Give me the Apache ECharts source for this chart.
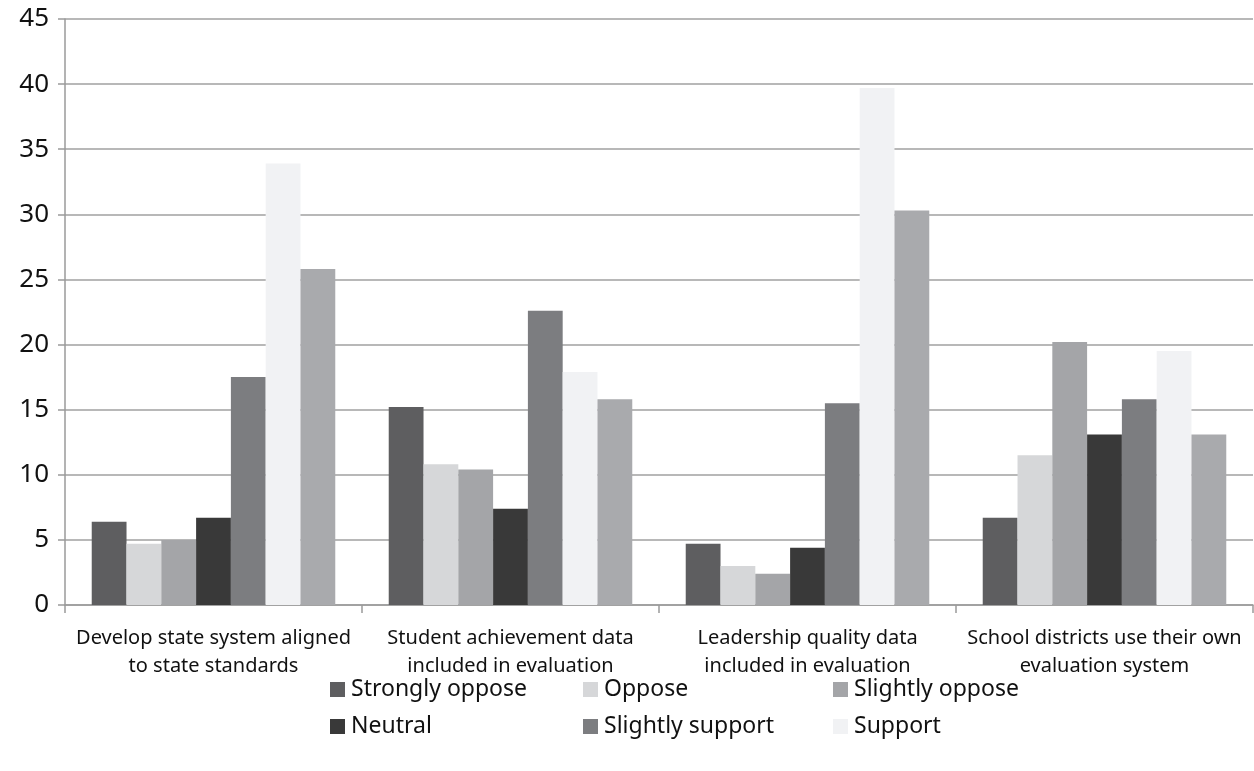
<!DOCTYPE html>
<html>
<head>
<meta charset="utf-8">
<script src="https://cdn.jsdelivr.net/npm/echarts@6/dist/echarts.min.js"></script>
<style>
  html, body { margin: 0; padding: 0; background: #fff; }
  #main { width: 1254px; height: 771px; }
</style>
</head>
<body>
<div id="main"></div>
<script>
var categories = [
  'Develop state system aligned\nto state standards',
  'Student achievement data\nincluded in evaluation',
  'Leadership quality data\nincluded in evaluation',
  'School districts use their own\nevaluation system'
];
var seriesNames = ['Strongly oppose', 'Oppose', 'Slightly oppose', 'Neutral', 'Slightly support', 'Support', 'Strongly support'];
var stronglyOppose = [6.4, 15.2, 4.7, 6.7];
var oppose = [4.7, 10.8, 3.0, 11.5];
var slightlyOppose = [5.0, 10.4, 2.4, 20.2];
var neutral = [6.7, 7.4, 4.4, 13.1];
var slightlySupport = [17.5, 22.6, 15.5, 15.8];
var support = [33.9, 17.9, 39.7, 19.5];
var stronglySupport = [25.8, 15.8, 30.3, 13.1];
var yTicks = [0, 5, 10, 15, 20, 25, 30, 35, 40, 45];

var colors = ['#5e5e60', '#d6d7d9', '#a4a5a8', '#393939', '#7c7d80', '#f1f2f4', '#a9aaad'];
var values = [stronglyOppose, oppose, slightlyOppose, neutral, slightlySupport, support, stronglySupport];
var font = 'Noto Sans';

var chart = echarts.init(document.getElementById('main'));

var series = seriesNames.map(function (name, i) {
  return {
    name: name,
    type: 'bar',
    data: values[i],
    barGap: '0%',
    barCategoryGap: '18%',
    itemStyle: { color: colors[i] }
  };
});

// legend laid out as a 3 x 2 table, one component per item
var legendPos = [
  [330, 678], [583, 678], [833, 678],
  [330, 715], [583, 715], [833, 715]
];
var legends = legendPos.map(function (p, i) {
  return {
    data: [seriesNames[i]],
    left: p[0],
    top: p[1],
    icon: 'rect',
    itemWidth: 15,
    itemHeight: 15,
    itemGap: 0,
    padding: 0,
    textStyle: { fontFamily: font, fontSize: 23, color: '#111', padding: [0, 0, 0, 1] },
    selectedMode: false
  };
});

var option = {
  animation: false,
  textStyle: { fontFamily: font },
  grid: { left: 65, right: 1, top: 19, bottom: 166 },
  legend: legends,
  xAxis: {
    type: 'category',
    data: categories,
    axisLine: { lineStyle: { color: '#9a9a9a', width: 1.5 } },
    axisTick: { show: true, length: 8, lineStyle: { color: '#9a9a9a', width: 1.5 } },
    axisLabel: {
      interval: 0,
      margin: 19,
      fontSize: 20,
      lineHeight: 28,
      color: '#111',
      fontFamily: font
    }
  },
  yAxis: {
    type: 'value',
    min: yTicks[0],
    max: yTicks[yTicks.length - 1],
    interval: 5,
    axisLine: { show: true, lineStyle: { color: '#9a9a9a', width: 1.5 } },
    axisTick: { show: true, length: 7, lineStyle: { color: '#9a9a9a', width: 1.5 } },
    splitLine: { lineStyle: { color: '#a0a0a0', width: 1.5 } },
    axisLabel: { fontSize: 26, color: '#111', margin: 16, fontFamily: font }
  },
  series: series
};

chart.setOption(option);
</script>
</body>
</html>
